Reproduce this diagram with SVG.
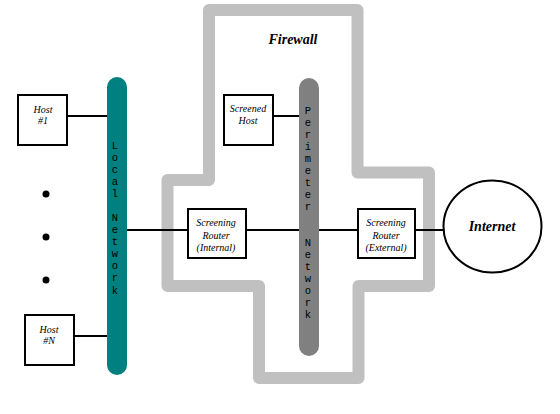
<svg xmlns="http://www.w3.org/2000/svg" width="560" height="414" viewBox="0 0 560 414">
<style>
.box{fill:#fff;stroke:#000;stroke-width:2}
.lbl{font-family:"Liberation Serif",serif;font-style:italic;font-size:10px;text-anchor:middle;fill:#000}
.mono{font-family:"Liberation Mono",monospace;font-size:10.5px;text-anchor:middle;fill:#000}
.big{font-family:"Liberation Serif",serif;font-style:italic;font-weight:bold;font-size:14px;text-anchor:middle;fill:#000}
.wire{stroke:#000;stroke-width:2;fill:none}
</style>
<rect width="560" height="414" fill="#fff"/>
<g id="firewall">
<path d="M209,10 H357.5 V172.5 H429 V286 H358.5 V378 H259 V286 H167.5 V180 H209 Z" fill="none" stroke="#c0c0c0" stroke-width="12" stroke-linejoin="round"/>
<text class="big" x="293" y="44">Firewall</text>
</g>
<g id="connectors">
<line class="wire" x1="67" y1="116" x2="110" y2="116"/>
<line class="wire" x1="74" y1="336" x2="110" y2="336"/>
<line class="wire" x1="123" y1="230" x2="187" y2="230"/>
<line class="wire" x1="246" y1="230" x2="303" y2="230"/>
<line class="wire" x1="315" y1="230" x2="358" y2="230"/>
<line class="wire" x1="415" y1="230" x2="443" y2="230"/>
<line class="wire" x1="273" y1="116" x2="300" y2="116"/>
</g>
<g id="local-network">
<rect x="107" y="77" width="20" height="298" rx="10" fill="#008080"/>
<text class="mono"><tspan x="115" y="149">L</tspan><tspan x="115" y="161">o</tspan><tspan x="115" y="173">c</tspan><tspan x="115" y="185">a</tspan><tspan x="115" y="197">l</tspan><tspan x="115" y="221">N</tspan><tspan x="115" y="233">e</tspan><tspan x="115" y="245">t</tspan><tspan x="115" y="257">w</tspan><tspan x="115" y="269">o</tspan><tspan x="115" y="281">r</tspan><tspan x="115" y="294">k</tspan></text>
</g>
<g id="perimeter-network">
<rect x="299" y="78" width="20" height="278" rx="10" fill="#808080"/>
<text class="mono"><tspan x="308" y="114">P</tspan><tspan x="308" y="126">e</tspan><tspan x="308" y="138">r</tspan><tspan x="308" y="150">i</tspan><tspan x="308" y="162">m</tspan><tspan x="308" y="174">e</tspan><tspan x="308" y="186">t</tspan><tspan x="308" y="198">e</tspan><tspan x="308" y="210">r</tspan><tspan x="308" y="246">N</tspan><tspan x="308" y="258">e</tspan><tspan x="308" y="270">t</tspan><tspan x="308" y="282">w</tspan><tspan x="308" y="294">o</tspan><tspan x="308" y="306">r</tspan><tspan x="308" y="318">k</tspan></text>
</g>
<g id="host1">
<rect class="box" x="18" y="95" width="49" height="50"/>
<text class="lbl"><tspan x="43" y="113">Host</tspan><tspan x="43" y="124">#1</tspan></text>
</g>
<g id="dots">
<circle cx="46" cy="194" r="3.5" fill="#000"/>
<circle cx="46" cy="237" r="3.5" fill="#000"/>
<circle cx="46" cy="280" r="3.5" fill="#000"/>
</g>
<g id="hostN">
<rect class="box" x="25" y="315" width="49" height="50"/>
<text class="lbl"><tspan x="49" y="333">Host</tspan><tspan x="49" y="344">#N</tspan></text>
</g>
<g id="screened-host">
<rect class="box" x="224" y="95" width="49" height="50"/>
<text class="lbl"><tspan x="248" y="112">Screened</tspan><tspan x="248" y="124">Host</tspan></text>
</g>
<g id="router-internal">
<rect class="box" x="188" y="209" width="58" height="49"/>
<text class="lbl"><tspan x="216" y="226">Screening</tspan><tspan x="216" y="239">Router</tspan><tspan x="216" y="251">(Internal)</tspan></text>
</g>
<g id="router-external">
<rect class="box" x="358" y="209" width="57" height="49"/>
<text class="lbl"><tspan x="386" y="226">Screening</tspan><tspan x="386" y="239">Router</tspan><tspan x="386" y="251">(External)</tspan></text>
</g>
<g id="internet">
<ellipse cx="492.5" cy="226.5" rx="49" ry="46" fill="#fff" stroke="#000" stroke-width="2"/>
<text class="big" x="492" y="231">Internet</text>
</g>
</svg>
